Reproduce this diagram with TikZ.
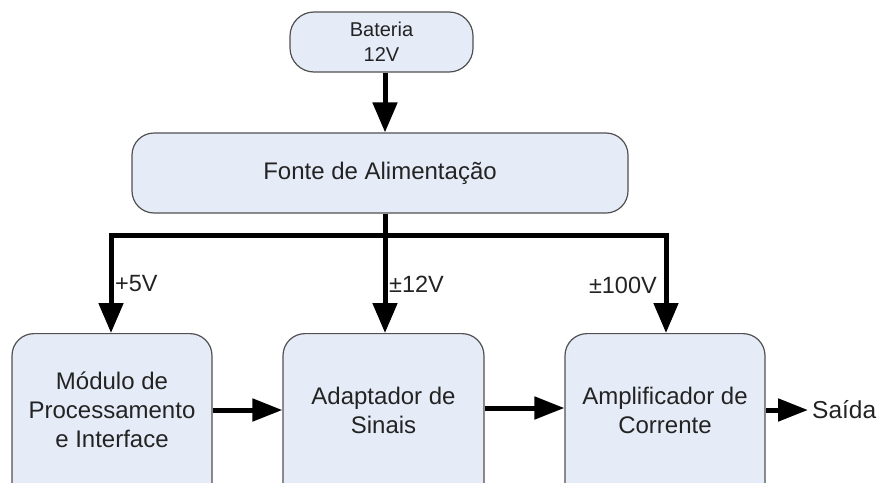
\documentclass[tikz,border=0pt]{standalone}
\usepackage{fontspec}
\setmainfont{Liberation Sans}
\usetikzlibrary{arrows.meta}
\definecolor{boxfill}{RGB}{230,236,247}
\definecolor{boxline}{RGB}{80,80,80}
\definecolor{txt}{RGB}{35,35,35}
\begin{document}
\begin{tikzpicture}[x=1pt,y=-1pt,
  blk/.style={draw=boxline,fill=boxfill,line width=1.2pt,rounded corners=22pt,
    text=txt,align=center,inner sep=0pt,font=\fontsize{24}{29}\selectfont},
  conn/.style={line width=5pt,-{Triangle[length=30pt,width=24pt]}},
  lbl/.style={text=txt,font=\fontsize{23.5}{27}\selectfont,inner sep=0pt}]
\useasboundingbox (0,0) rectangle (886,482);
\begin{scope}
\clip (0,0) rectangle (886,482);
\node[blk,minimum width=183pt,minimum height=60pt,rounded corners=24pt,
  font=\fontsize{20}{25}\selectfont] (bat) at (381.5,42) {Bateria\\12V};
\node[blk,minimum width=496pt,minimum height=80pt] (fonte) at (380,173) {Fonte de Alimentação};
\node[blk,minimum width=200pt,minimum height=180pt,anchor=north] (mod) at (112,333) {};
\node[blk,minimum width=201pt,minimum height=180pt,anchor=north] (ada) at (383.5,333) {};
\node[blk,minimum width=200pt,minimum height=180pt,anchor=north] (amp) at (665,333) {};
\end{scope}
\node[text=txt,align=center,font=\fontsize{24}{29}\selectfont] (modt) at (112,410) {Módulo de\\Processamento\\e Interface};
\node[text=txt,align=center,font=\fontsize{24}{29}\selectfont] (adat) at (383.5,410) {Adaptador de\\Sinais};
\node[text=txt,align=center,font=\fontsize{24}{29}\selectfont] (ampt) at (665,410) {Amplificador de\\Corrente};
\coordinate (busL) at (111,235);
\coordinate (busM) at (385,235);
\coordinate (busR) at (666,235);
\coordinate (out) at (808,410);
\draw[conn] (bat.south -| busM) -- (fonte.north -| busM);
\draw[line width=5pt] (fonte.south -| busM) -- (busM);
\draw[line width=5pt,line cap=rect] (busL) -- (busR);
\draw[conn] (busL) -- (mod.north -| busL);
\draw[conn] (busM) -- (ada.north -| busM);
\draw[conn] (busR) -- (amp.north -| busR);
\draw[conn,-{Triangle[length=30pt,width=22pt]}] (mod.east |- 0,410) -- (ada.west |- 0,410);
\draw[conn,-{Triangle[length=30pt,width=22pt]}] (ada.east |- 0,408) -- (amp.west |- 0,408);
\draw[conn,-{Triangle[length=30pt,width=22pt]}] (amp.east |- out) -- (out);
\node[lbl,anchor=west] (v5) at (115,284) {+5V};
\node[lbl,anchor=west] (v12) at (389,284) {±12V};
\node[lbl,anchor=east] (v100) at (657,285) {±100V};
\node[lbl,anchor=west,font=\fontsize{24.5}{28}\selectfont] (sai) at (812,410) {Saída};
\end{tikzpicture}
\end{document}
